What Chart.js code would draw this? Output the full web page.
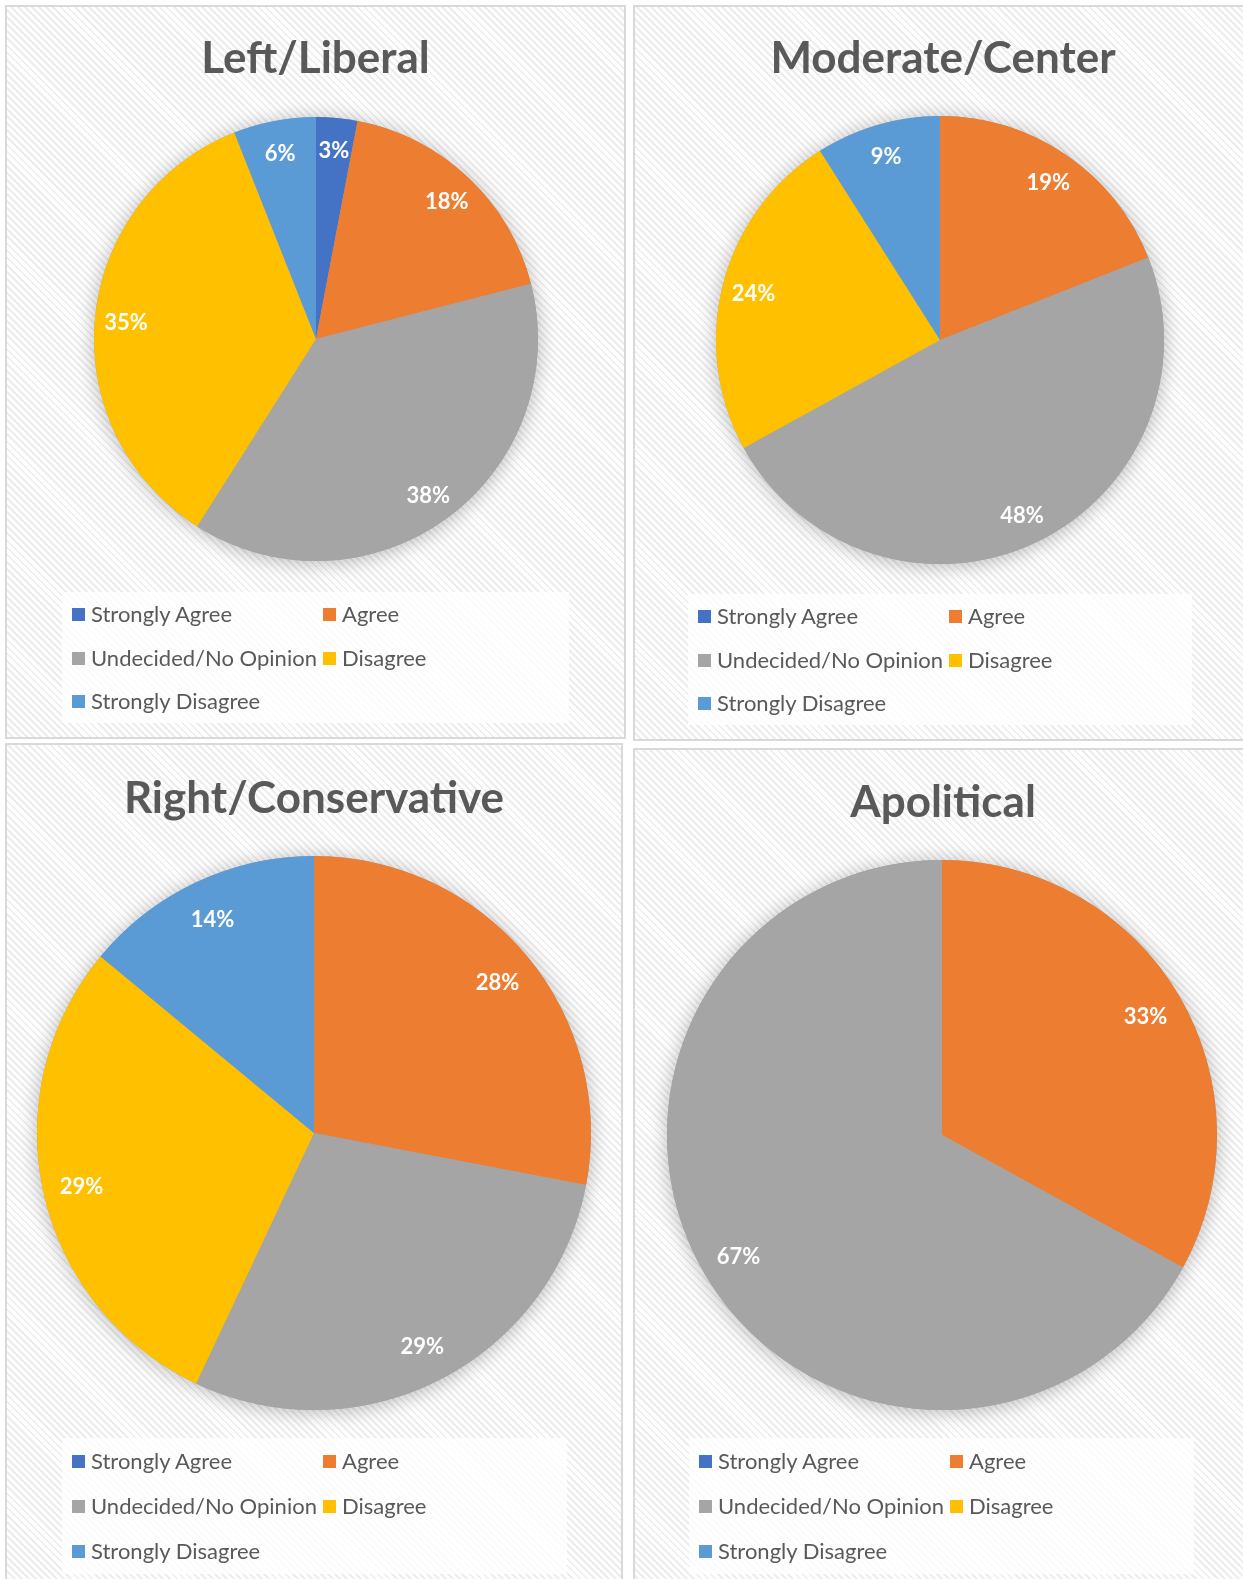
<!DOCTYPE html>
<html>
<head>
<meta charset="utf-8">
<script src="https://cdn.jsdelivr.net/npm/chart.js@4"></script>
<style>
  html, body { margin: 0; padding: 0; background: #fff; width: 1243px; height: 1579px; overflow: hidden; }
  .panel {
    position: absolute; box-sizing: border-box; border: 2px solid #d9d9d9;
    background: repeating-linear-gradient(45deg, #ffffff 0px, #ffffff 3px, #ededed 3px, #ededed 5px);
  }
  .panel canvas { position: absolute; left: 0; top: 0; }
  .title {
    position: absolute; left: 0; width: 100%; text-align: center;
    font-family: Lato, sans-serif; font-weight: bold; font-size: 44px; color: #595959;
    line-height: 50px; margin-top: -25px;
  }
  .legend { position: absolute; background: rgba(255,255,255,0.75); }
  .item {
    position: absolute; font-family: Lato, sans-serif; font-size: 22px; color: #595959;
    line-height: 26px; margin-top: -13px; white-space: nowrap;
  }
  .item i { position: absolute; left: 0; top: 7px; width: 13px; height: 13px; }
  .item span { position: absolute; left: 19px; top: 0; }
</style>
</head>
<body>
<script>
const categories = ["Strongly Agree", "Agree", "Undecided/No Opinion", "Disagree", "Strongly Disagree"];
const titles = ["Left/Liberal", "Moderate/Center", "Right/Conservative", "Apolitical"];
const leftLiberal = [3, 18, 38, 35, 6];
const moderateCenter = [0, 19, 48, 24, 9];
const rightConservative = [0, 28, 29, 29, 14];
const apolitical = [0, 33, 67, 0, 0];
const series = [leftLiberal, moderateCenter, rightConservative, apolitical];
const colors = ["#4472C4", "#ED7D31", "#A5A5A5", "#FFC000", "#5B9BD5"];

// panel boxes, pie centre/radius, title y, legend box (page coords)
const panels = [
  { x: 5,   y: 5,   w: 621, h: 734, cx: 316, cy: 339,  r: 222, ty: 56,  lx: 62,  ly: 592,  lw: 507, lh: 131 },
  { x: 633, y: 5,   w: 620, h: 736, cx: 940, cy: 340,  r: 224, ty: 56,  lx: 688, ly: 594,  lw: 504, lh: 131 },
  { x: 5,   y: 743, w: 618, h: 850, cx: 314, cy: 1133, r: 277, ty: 796, lx: 62,  ly: 1438, lw: 505, lh: 136 },
  { x: 633, y: 748, w: 620, h: 850, cx: 942, cy: 1135, r: 275, ty: 800, lx: 689, ly: 1438, lw: 505, lh: 136 }
];

const pieShadow = {
  id: "pieShadow",
  beforeDatasetsDraw(chart) {
    const arc = chart.getDatasetMeta(0).data[0];
    const ctx = chart.ctx;
    ctx.save();
    ctx.shadowColor = "rgba(0,0,0,0.28)";
    ctx.shadowBlur = 20;
    ctx.shadowOffsetY = 2;
    ctx.beginPath();
    ctx.arc(arc.x, arc.y, arc.outerRadius, 0, Math.PI * 2);
    ctx.fillStyle = "#a5a5a5";
    ctx.fill();
    ctx.restore();
  }
};

const pctLabels = {
  id: "pctLabels",
  afterDatasetsDraw(chart) {
    const ctx = chart.ctx;
    const values = chart.data.datasets[0].data;
    ctx.save();
    ctx.font = "bold 22px Lato";
    ctx.fillStyle = "#fff";
    ctx.textAlign = "center";
    ctx.textBaseline = "middle";
    chart.getDatasetMeta(0).data.forEach((arc, i) => {
      if (!values[i]) return;
      const mid = (arc.startAngle + arc.endAngle) / 2;
      const d = arc.outerRadius * 0.86;
      ctx.fillText(values[i] + "%", arc.x + Math.cos(mid) * d, arc.y + Math.sin(mid) * d + 2);
    });
    ctx.restore();
  }
};

panels.forEach((p, k) => {
  const div = document.createElement("div");
  div.className = "panel";
  div.style.left = p.x + "px";
  div.style.top = p.y + "px";
  div.style.width = p.w + "px";
  div.style.height = p.h + "px";
  document.body.appendChild(div);

  const W = p.w - 4, H = p.h - 4;
  const canvas = document.createElement("canvas");
  canvas.width = W;
  canvas.height = H;
  div.appendChild(canvas);

  const title = document.createElement("div");
  title.className = "title";
  title.style.top = (p.ty - p.y - 2) + "px";
  title.textContent = titles[k];
  div.appendChild(title);

  const cx = p.cx - p.x - 2, cy = p.cy - p.y - 2;
  const chart = new Chart(canvas.getContext("2d"), {
    type: "pie",
    data: {
      labels: categories,
      datasets: [{ data: series[k], backgroundColor: colors, borderWidth: 0 }]
    },
    options: {
      responsive: false,
      animation: false,
      layout: { padding: { left: cx - p.r, top: cy - p.r, right: W - cx - p.r, bottom: H - cy - p.r } },
      plugins: { legend: { display: false }, title: { display: false }, tooltip: { enabled: false } }
    },
    plugins: [pieShadow, pctLabels]
  });

  // legend built from the chart's own labels and colours
  const leg = document.createElement("div");
  leg.className = "legend";
  leg.style.left = (p.lx - p.x - 2) + "px";
  leg.style.top = (p.ly - p.y - 2) + "px";
  leg.style.width = p.lw + "px";
  leg.style.height = p.lh + "px";
  div.appendChild(leg);
  const rowY = [0.17, 0.5, 0.83].map(f => Math.round(f * p.lh));
  const colX = [10, 261];
  chart.data.labels.forEach((lab, i) => {
    const it = document.createElement("div");
    it.className = "item";
    it.style.left = colX[i % 2] + "px";
    it.style.top = rowY[Math.floor(i / 2)] + "px";
    it.innerHTML = '<i style="background:' + colors[i] + '"></i><span>' + lab + "</span>";
    leg.appendChild(it);
  });
});
</script>
</body>
</html>
